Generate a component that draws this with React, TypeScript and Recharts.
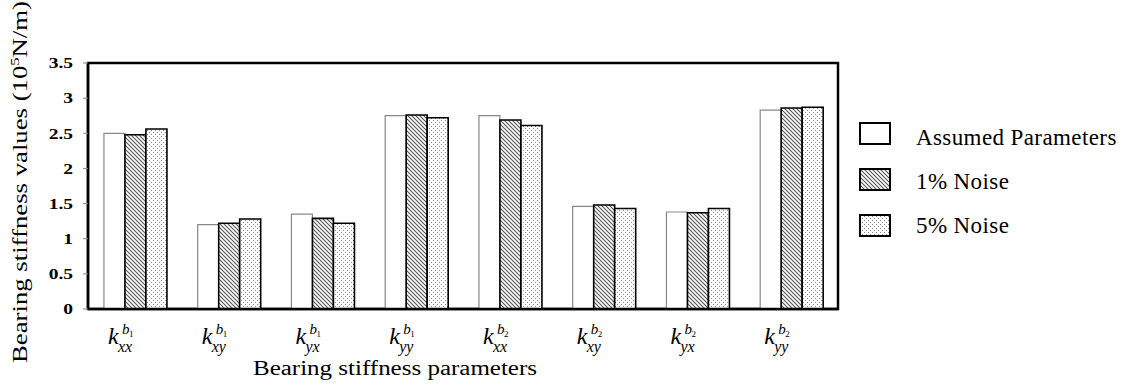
import { BarChart, Bar, XAxis, YAxis, Legend, ReferenceArea } from "recharts";

// stiffness sub-indices and bearing numbers for each category
const subs = ["xx", "xy", "yx", "yy", "xx", "xy", "yx", "yy"];
const bearings = ["1", "1", "1", "1", "2", "2", "2", "2"];
const assumed = [2.5, 1.2, 1.35, 2.75, 2.75, 1.46, 1.38, 2.83];
const noise1 = [2.48, 1.22, 1.29, 2.76, 2.69, 1.48, 1.37, 2.86];
const noise5 = [2.56, 1.28, 1.22, 2.72, 2.61, 1.43, 1.43, 2.87];
const yTicks = [0, 0.5, 1, 1.5, 2, 2.5, 3, 3.5];
const legendItems = ["Assumed Parameters", "1% Noise", "5% Noise"];

const data = subs.map((s, i) => ({
  name: `k${s}b${bearings[i]}#${i}`,
  assumed: assumed[i],
  noise1: noise1[i],
  noise5: noise5[i],
}));

const serif = "Liberation Serif";

const Patterns = ({ prefix }: { prefix: string }) => (
  <defs>
    <pattern id={`${prefix}hatch`} patternUnits="userSpaceOnUse" width="4" height="4">
      <rect width="4" height="4" fill="#fff" />
      <path d="M0,0 L4,4 M-1,3 L1,5 M3,-1 L5,1" stroke="#555" strokeWidth="1.1" />
    </pattern>
    <pattern id={`${prefix}dots`} patternUnits="userSpaceOnUse" width="4" height="4">
      <rect width="4" height="4" fill="#fff" />
      <rect x="1" y="0" width="1" height="1" fill="#888" />
      <rect x="3" y="2" width="1" height="1" fill="#888" />
    </pattern>
  </defs>
);

const XTick = (props: any) => {
  const { x, y, payload } = props;
  const i = payload.index;
  return (
    <g style={{ fontFamily: serif, fontStyle: "italic" }} fill="#000">
      <text x={x - 27} y={y + 33} fontSize={24}>k</text>
      <text x={x - 13} y={y + 23} fontSize={15}>b</text>
      <text x={x - 6} y={y + 26} fontSize={9} style={{ fontStyle: "normal" }}>{bearings[i]}</text>
      <text x={x - 17} y={y + 41} fontSize={16}>{subs[i]}</text>
    </g>
  );
};

const YTick = (props: any) => {
  const { x, y, payload } = props;
  return (
    <g transform={`translate(${x},${y}) scale(1.3,1)`}>
      <text x={0} y={0} dy="0.35em" textAnchor="end" style={{ fontFamily: serif, fontWeight: "bold" }} fontSize={15} fill="#000">
        {payload.value}
      </text>
    </g>
  );
};

const LegendBox = () => {
  const fills = ["#fff", "url(#lghatch)", "url(#lgdots)"];
  return (
    <svg width={282} height={135}>
      <Patterns prefix="lg" />
      {legendItems.map((t, i) => (
        <g key={t}>
          <rect x={11} y={9 + i * 46} width={30} height={21} fill={fills[i]} stroke="#000" strokeWidth={2} />
          <text x={67} y={31 + i * 44} style={{ fontFamily: serif }} fontSize={23} letterSpacing={0.4} fill="#000">{t}</text>
        </g>
      ))}
    </svg>
  );
};

const App = () => {
  return (
    <div style={{ position: "absolute", left: 0, top: 0 }}>
      <BarChart
        width={1132}
        height={389}
        data={data}
        margin={{ top: 63, right: 294, bottom: 0, left: 0 }}
        barCategoryGap="17%"
        barGap={0}
      >
        <Patterns prefix="c" />
        <XAxis
          dataKey="name"
          height={80}
          tickLine={false}
          tickSize={0}
          tick={<XTick />}
          axisLine={{ stroke: "#000", strokeWidth: 2.5 }}
          interval={0}
        />
        <YAxis
          width={88}
          domain={[0, 3.5]}
          ticks={yTicks}
          interval={0}
          tick={<YTick />}
          tickSize={5}
          tickMargin={10}
          tickLine={{ stroke: "#888" }}
          axisLine={{ stroke: "#000", strokeWidth: 2.5 }}
        />
        <Legend
          layout="horizontal"
          verticalAlign="middle"
          align="center"
          content={<LegendBox />}
          wrapperStyle={{ left: 849, top: 114, width: 282 }}
        />
        <Bar dataKey="assumed" name="Assumed Parameters" fill="#fff" stroke="#888" strokeWidth={1.2} isAnimationActive={false} />
        <Bar dataKey="noise1" name="1% Noise" fill="url(#chatch)" stroke="#000" strokeWidth={1.6} isAnimationActive={false} />
        <Bar dataKey="noise5" name="5% Noise" fill="url(#cdots)" stroke="#000" strokeWidth={1.6} isAnimationActive={false} />
        <ReferenceArea y1={0} y2={3.5} fill="none" fillOpacity={0} stroke="#000" strokeWidth={2.5} />
        <text x={395} y={375} textAnchor="middle" style={{ fontFamily: serif }} fontSize={20} textLength={284} lengthAdjust="spacingAndGlyphs" fill="#000">
          Bearing stiffness parameters
        </text>
        <text
          transform="translate(27,182) rotate(-90)"
          textAnchor="middle"
          style={{ fontFamily: serif }}
          fontSize={21}
          textLength={362}
          lengthAdjust="spacingAndGlyphs"
          fill="#000"
        >
          Bearing stiffness values (10<tspan dy={-8} fontSize={13}>5</tspan><tspan dy={8}>N/m)</tspan>
        </text>
      </BarChart>
    </div>
  );
};

export default App;
